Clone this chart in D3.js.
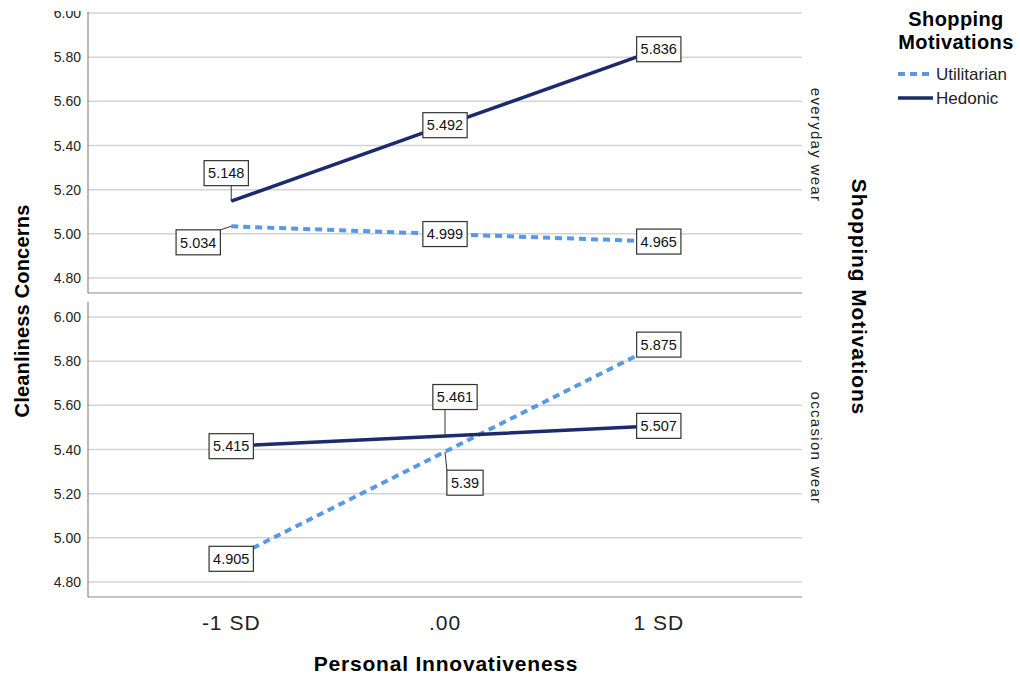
<!DOCTYPE html>
<html>
<head>
<meta charset="utf-8">
<script src="https://cdn.jsdelivr.net/npm/d3@7"></script>
<style>
  body { margin: 0; background: #fff; }
  svg { display: block; font-family: "Liberation Sans", Arial, sans-serif; }
</style>
</head>
<body>
<div id="chart"></div>
<script>
// data
const levels = ["-1 SD", ".00", "1 SD"];
const panels = ["everyday wear", "occasion wear"];
const seriesNames = ["Utilitarian", "Hedonic"];
const everydayUtilitarian = [5.034, 4.999, 4.965];
const everydayHedonic = [5.148, 5.492, 5.836];
const occasionUtilitarian = [4.905, 5.39, 5.875];
const occasionHedonic = [5.415, 5.461, 5.507];
const yTicks = [4.8, 5.0, 5.2, 5.4, 5.6, 5.8, 6.0];

const panelValues = [
  { Utilitarian: everydayUtilitarian, Hedonic: everydayHedonic },
  { Utilitarian: occasionUtilitarian, Hedonic: occasionHedonic }
];

// label boxes that were moved off their point (panel|series|level -> dx, dy)
const nudge = {
  "0|Hedonic|0": [-5, -28],
  "0|Utilitarian|0": [-33, 16],
  "1|Hedonic|1": [10, -39],
  "1|Utilitarian|1": [20, 31]
};

const width = 1020, height = 675;
const colors = { Utilitarian: "#5898e6", Hedonic: "#1b2b6c" };

const svg = d3.select("#chart").append("svg")
  .attr("width", width)
  .attr("height", height);

const x = d3.scalePoint().domain(levels).range([88, 802]).padding(0.67);

// panel frames
const panelBox = [
  { top: 12, bottom: 293, strip: 145 },
  { top: 302, bottom: 597, strip: 448 }
];

svg.append("defs").append("clipPath").attr("id", "topclip")
  .append("rect").attr("x", 0).attr("y", 11).attr("width", width).attr("height", height);

panels.forEach((name, pi) => {
  const box = panelBox[pi];
  const y = d3.scaleLinear().domain([4.8, 6.0]).range([box.bottom - 15, box.bottom - 280]);
  const g = svg.append("g").attr("clip-path", "url(#topclip)");

  // gridlines
  g.append("g").selectAll("line").data(yTicks).join("line")
    .attr("x1", 88).attr("x2", 802)
    .attr("y1", d => y(d)).attr("y2", d => y(d))
    .attr("stroke", "#d3d3d3").attr("stroke-width", 1.5);

  // axis lines
  g.append("line").attr("x1", 88).attr("x2", 88).attr("y1", box.top).attr("y2", box.bottom)
    .attr("stroke", "#8a8a8a").attr("stroke-width", 1.2);
  g.append("line").attr("x1", 88).attr("x2", 802).attr("y1", box.bottom).attr("y2", box.bottom)
    .attr("stroke", "#8a8a8a").attr("stroke-width", 1.2);

  // y tick labels
  g.append("g").selectAll("text").data(yTicks).join("text")
    .attr("x", 81).attr("y", d => y(d)).attr("dy", "0.36em")
    .attr("text-anchor", "end").attr("font-size", 14).attr("fill", "#222")
    .text(d => d3.format(".2f")(d));

  // panel strip label
  svg.append("text")
    .attr("transform", `translate(811,${box.strip}) rotate(90)`)
    .attr("text-anchor", "middle").attr("font-size", 15).attr("fill", "#222")
    .attr("letter-spacing", 1.3)
    .text(name);

  const line = d3.line().x((d, i) => x(levels[i])).y(d => y(d));
  seriesNames.forEach(s => {
    g.append("path").datum(panelValues[pi][s])
      .attr("d", line).attr("fill", "none")
      .attr("stroke", colors[s])
      .attr("stroke-width", s === "Hedonic" ? 3.5 : 4)
      .attr("stroke-dasharray", s === "Utilitarian" ? "7 5" : null);
  });

  // value labels
  seriesNames.forEach(s => {
    panelValues[pi][s].forEach((v, li) => {
      const px = x(levels[li]), py = y(v);
      const [dx, dy] = nudge[`${pi}|${s}|${li}`] || [0, 0];
      const cx = px + dx, cy = py + dy;
      const lg = svg.append("g");
      const t = lg.append("text")
        .attr("x", cx).attr("y", cy).attr("dy", "0.36em")
        .attr("text-anchor", "middle").attr("font-size", 14.5).attr("fill", "#111")
        .text(String(v));
      const bb = t.node().getBBox();
      const w = bb.width + 8, h = 25;
      const rx = cx - w / 2, ry = cy - h / 2;
      if (dx || dy) {
        const lx = Math.max(rx, Math.min(px, rx + w));
        const ly = Math.max(ry, Math.min(py, ry + h));
        lg.insert("line", "text").attr("x1", lx).attr("y1", ly).attr("x2", px).attr("y2", py)
          .attr("stroke", "#333").attr("stroke-width", 1);
      }
      lg.insert("rect", "text")
        .attr("x", rx).attr("y", ry).attr("width", w).attr("height", h)
        .attr("fill", "#fff").attr("stroke", "#333").attr("stroke-width", 1.2);
    });
  });
});

// x tick labels
svg.append("g").selectAll("text").data(levels).join("text")
  .attr("x", d => x(d)).attr("y", 630)
  .attr("text-anchor", "middle").attr("font-size", 21).attr("fill", "#222")
  .attr("letter-spacing", 1)
  .text(d => d);

// axis titles
svg.append("text").attr("x", 446).attr("y", 671)
  .attr("text-anchor", "middle").attr("font-size", 21).attr("font-weight", "bold")
  .attr("letter-spacing", 0.8)
  .text("Personal Innovativeness");

svg.append("text").attr("transform", "translate(29,311) rotate(-90)")
  .attr("text-anchor", "middle").attr("font-size", 20).attr("font-weight", "bold")
  .attr("letter-spacing", 0.2)
  .text("Cleanliness Concerns");

svg.append("text").attr("transform", "translate(852,297) rotate(90)")
  .attr("text-anchor", "middle").attr("font-size", 21).attr("font-weight", "bold")
  .attr("letter-spacing", 0.85)
  .text("Shopping Motivations");

// legend
const legend = svg.append("g");
legend.append("text").attr("x", 956).attr("y", 26)
  .attr("text-anchor", "middle").attr("font-size", 20).attr("font-weight", "bold")
  .attr("letter-spacing", 0.4)
  .text("Shopping");
legend.append("text").attr("x", 956).attr("y", 49)
  .attr("text-anchor", "middle").attr("font-size", 20).attr("font-weight", "bold")
  .attr("letter-spacing", 0.4)
  .text("Motivations");
seriesNames.forEach((s, i) => {
  const ly = 74 + i * 24;
  legend.append("line").attr("x1", 898).attr("x2", 933).attr("y1", ly).attr("y2", ly)
    .attr("stroke", colors[s]).attr("stroke-width", s === "Hedonic" ? 3.5 : 4)
    .attr("stroke-dasharray", s === "Utilitarian" ? "7 5" : null);
  legend.append("text").attr("x", 936).attr("y", ly).attr("dy", "0.36em")
    .attr("font-size", 17).attr("fill", "#222")
    .text(s);
});
</script>
</body>
</html>
